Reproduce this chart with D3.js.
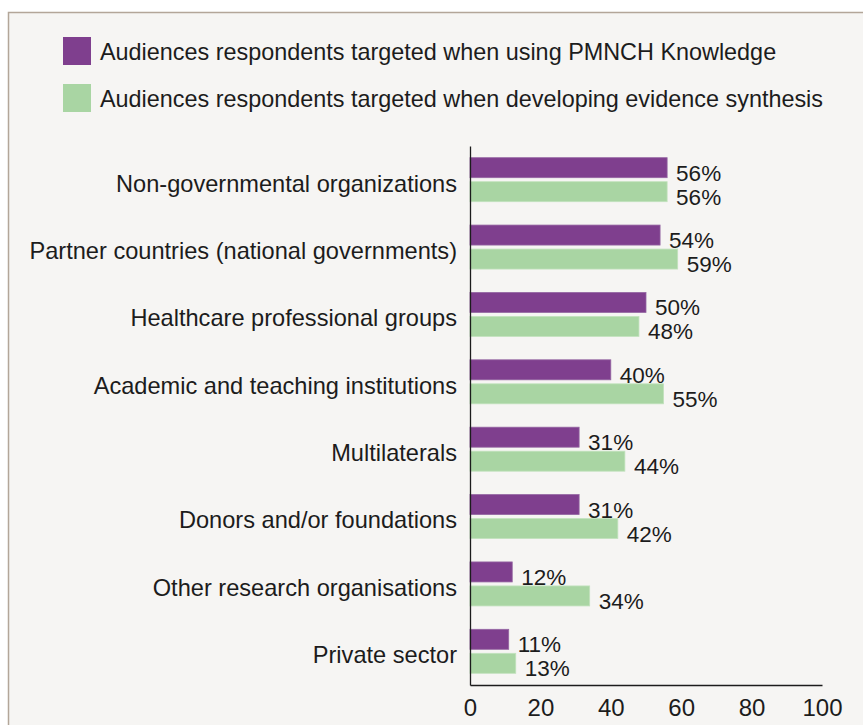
<!DOCTYPE html>
<html>
<head>
<meta charset="utf-8">
<script src="https://cdn.jsdelivr.net/npm/d3@7"></script>
<style>
  html, body { margin: 0; padding: 0; background: #ffffff; }
  svg { display: block; }
  text { font-family: "Liberation Sans", Arial, sans-serif; fill: #1c1c1c; }
</style>
</head>
<body>
<div id="chart"></div>
<script>
const categories = [
  "Non-governmental organizations",
  "Partner countries (national governments)",
  "Healthcare professional groups",
  "Academic and teaching institutions",
  "Multilaterals",
  "Donors and/or foundations",
  "Other research organisations",
  "Private sector"
];
const seriesNames = [
  "Audiences respondents targeted when using PMNCH Knowledge",
  "Audiences respondents targeted when developing evidence synthesis"
];
const usingKnowledge = [56, 54, 50, 40, 31, 31, 12, 11];
const evidenceSynthesis = [56, 59, 48, 55, 44, 42, 34, 13];
const xTicks = [0, 20, 40, 60, 80, 100];
const colors = ["#7f3f8e", "#a9d5a3"];

const W = 863, H = 725;
const svg = d3.select("#chart").append("svg").attr("width", W).attr("height", H);

// panel
svg.append("rect").attr("x", 8.5).attr("y", 12.5).attr("width", W + 10).attr("height", H + 10)
  .attr("fill", "#f6f5f3").attr("stroke", "#b3a699").attr("stroke-width", 1.5);

const x = d3.scaleLinear().domain([0, 100]).range([470, 822]);
const y0 = d3.scaleBand().domain(categories).range([146, 685]).padding(0);
const groupH = 44;
const y1 = d3.scaleBand().domain(seriesNames)
  .range([(y0.bandwidth() - groupH) / 2, (y0.bandwidth() + groupH) / 2])
  .paddingInner(4 / 24).paddingOuter(0);

const rows = categories.map((c, i) => ({ cat: c, vals: [usingKnowledge[i], evidenceSynthesis[i]] }));

// legend
const legend = svg.append("g");
seriesNames.forEach((s, i) => {
  const ly = 37 + i * 47;
  legend.append("rect").attr("x", 63).attr("y", ly).attr("width", 28).attr("height", 28)
    .attr("fill", colors[i]);
  legend.append("text").attr("x", 100).attr("y", ly + 23).attr("font-size", 23.4).text(s);
});

// bars
const g = svg.append("g");
const groups = g.selectAll("g.grp").data(rows).join("g")
  .attr("class", "grp")
  .attr("transform", d => `translate(0,${y0(d.cat)})`);

groups.selectAll("rect").data(d => d.vals.map((v, j) => ({ v, s: seriesNames[j], j })))
  .join("rect")
  .attr("x", x(0))
  .attr("y", d => y1(d.s))
  .attr("width", d => x(d.v) - x(0))
  .attr("height", y1.bandwidth())
  .attr("fill", d => colors[d.j])
  .attr("stroke", d => d.j === 0 ? "#9566a2" : "#c2e2bd")
  .attr("stroke-width", 0.8);

groups.selectAll("text.val").data(d => d.vals.map((v, j) => ({ v, s: seriesNames[j], j })))
  .join("text")
  .attr("class", "val")
  .attr("x", d => x(d.v) + 9)
  .attr("y", d => y1(d.s) + y1.bandwidth() / 2 + 13)
  .attr("font-size", 22.5)
  .text(d => d.v + "%");

// y axis (category labels)
const yAxis = d3.axisLeft(y0).tickSize(0).tickPadding(13);
const ya = svg.append("g").attr("transform", `translate(${x(0)},0)`).call(yAxis);
ya.select(".domain").attr("stroke", "#1c1c1c").attr("stroke-width", 1.3);
ya.selectAll("text").attr("font-size", 23.6).attr("font-family", "Liberation Sans, Arial, sans-serif")
  .attr("fill", "#1c1c1c").attr("dy", "0.5em");

// x axis
const xAxis = d3.axisBottom(x).tickValues(xTicks).tickSize(0).tickPadding(14).tickFormat(d3.format("d"));
const xa = svg.append("g").attr("transform", `translate(0,685)`).call(xAxis);
xa.select(".domain").attr("stroke", "#1c1c1c").attr("stroke-width", 1.3);
xa.selectAll("text").attr("font-size", 24).attr("font-family", "Liberation Sans, Arial, sans-serif")
  .attr("fill", "#1c1c1c").attr("dy", "0.71em");
</script>
</body>
</html>
